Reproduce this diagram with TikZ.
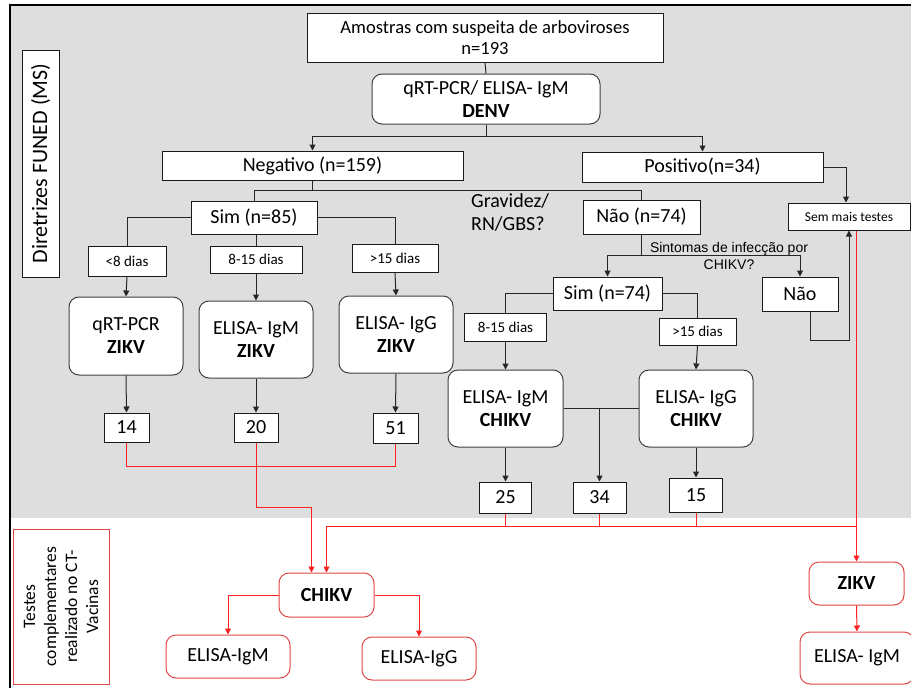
\documentclass[tikz,border=0pt]{standalone}
\usepackage{fontspec}
\setmainfont{Carlito}
\newfontfamily\arialf{Liberation Sans}
\usetikzlibrary{arrows.meta}
\definecolor{bg}{HTML}{DEDEDE}
\definecolor{boxred}{HTML}{E04848}
\definecolor{lnred}{HTML}{FF2020}
\newcommand\myfs[2]{\fontsize{#1pt}{#2pt}\selectfont}
\tikzset{
  box/.style={draw=black!90, fill=white, line width=1pt, inner sep=0pt, align=center, font=\myfs{20}{22}},
  rbox/.style={box, rounded corners=10pt, draw=black!75, font=\myfs{20}{23}},
  small/.style={font=\myfs{15}{17}},
  ln/.style={draw=black!85, line width=1pt},
  arr/.style={ln, -{Triangle[width=6pt,length=6pt]}},
  redln/.style={draw=lnred, line width=1pt},
  redarr/.style={redln, -{Triangle[width=6pt,length=6pt]}},
  redbox/.style={draw=boxred, fill=white, rounded corners=10pt, line width=1pt, inner sep=0pt, align=center, font=\myfs{20}{22}}
}
\begin{document}
\begin{tikzpicture}[x=1pt,y=-1pt]
\useasboundingbox (0,0) rectangle (911,688);
\fill[white] (0,0) rectangle (911,688);
\fill[bg] (10,5) rectangle (911,518);
\draw[black, line width=2.5pt] (10,688) -- (10,5) -- (911,5);

% top part
\node[box, minimum width=356, minimum height=49, font=\myfs{18.6}{21}] (top) at (485,37.5) {Amostras com suspeita de arboviroses\\n=193};
\node[rbox, minimum width=228, minimum height=50] (denv) at (486,99) {qRT-PCR/ ELISA- IgM\\\textbf{DENV}};
\node[box, minimum width=301, minimum height=29] (neg) at (312.5,165.5) {Negativo (n=159)};
\node[box, minimum width=241, minimum height=30] (pos) at (702.5,167) {Positivo(n=34)};
\node[box, minimum width=122, minimum height=27, font=\myfs{13.5}{15}] (semmais) at (849,216.5) {Sem mais testes};

\node[box, minimum width=126, minimum height=33] (sim85) at (254,217.5) {Sim (n=85)};
\node[box, minimum width=117, minimum height=34] (nao74) at (641.5,217) {Não (n=74)};

\node[box, small, minimum width=78, minimum height=30] (lt8) at (127,261) {<8 dias};
\node[box, small, minimum width=92, minimum height=27] (d815a) at (256,259.5) {8-15 dias};
\node[box, small, minimum width=86, minimum height=28] (gt15a) at (395,258) {>15 dias};

\node[rbox, minimum width=114, minimum height=78] (qrt) at (126,336) {qRT-PCR\\\textbf{ZIKV}};
\node[rbox, minimum width=114, minimum height=77] (emz) at (256,339.5) {ELISA- IgM\\\textbf{ZIKV}};
\node[rbox, minimum width=114, minimum height=77] (egz) at (396,334.5) {ELISA- IgG\\\textbf{ZIKV}};

\node[box, minimum width=45, minimum height=29] (n14) at (126.5,427.5) {14};
\node[box, minimum width=44, minimum height=29] (n20) at (256,427.5) {20};
\node[box, minimum width=45, minimum height=30] (n51) at (395.5,428) {51};

\node[anchor=north west, align=left, inner sep=0pt, font=\myfs{20}{23}] (grav) at (471,193) {Gravidez/\\RN/GBS?};
\node[align=center, inner sep=0pt, font=\arialf\myfs{14}{16.5}] (sint) at (729,256) {Sintomas de infecção por\\CHIKV?};

\node[box, minimum width=76, minimum height=34] (nao) at (800,294) {Não};
\node[box, minimum width=109, minimum height=33] (sim74) at (607.5,293.5) {Sim (n=74)};
\node[box, small, minimum width=82, minimum height=28] (d815b) at (505.5,327) {8-15 dias};
\node[box, small, minimum width=77, minimum height=27] (gt15b) at (697.5,331.5) {>15 dias};

\node[rbox, minimum width=115, minimum height=77] (eimc) at (505.5,408.5) {ELISA- IgM\\\textbf{CHIKV}};
\node[rbox, minimum width=114, minimum height=77] (eigc) at (696,408.5) {ELISA- IgG\\\textbf{CHIKV}};

\node[box, minimum width=52, minimum height=31] (n25) at (505.5,497.5) {25};
\node[box, minimum width=53, minimum height=31] (n34) at (599.5,497.5) {34};
\node[box, minimum width=53, minimum height=34] (n15) at (696,495) {15};

\node[box, rotate=90, minimum width=227, minimum height=37, font=\myfs{22}{24}] (diret) at (40.5,163.5) {Diretrizes FUNED (MS)};
\node[box, draw=boxred, rotate=90, minimum width=155, minimum height=96, font=\myfs{17.5}{21}] (testes) at (61,606.5) {Testes\\complementares\\realizado no CT-\\Vacinas};

% bottom part
\node[redbox, minimum width=95, minimum height=44] (chikv) at (326.5,595) {\textbf{CHIKV}};
\node[redbox, minimum width=124, minimum height=43] (eim) at (228,656.5) {ELISA-IgM};
\node[redbox, minimum width=114, minimum height=43] (eig) at (419,658.5) {ELISA-IgG};
\node[redbox, minimum width=95, minimum height=43] (zikv) at (856.5,583.5) {\textbf{ZIKV}};
\node[redbox, minimum width=114, minimum height=52] (eimz) at (857,658) {ELISA- IgM};

% black connectors
\draw[ln] (top.south) -- (denv.north);
\coordinate (jd) at (486,136);
\draw[ln] (denv.south) -- (jd);
\draw[arr] (jd) -| (neg.north);
\draw[arr] (jd) -| (pos.north);
\draw[arr] (pos.east) -| ([xshift=-3pt]semmais.north);

\coordinate (jn) at (312.5,190);
\draw[ln] (neg.south) -- (jn);
\draw[ln] (jn) -| (sim85.north);
\draw[ln] (jn) -| (nao74.north);

\draw[ln] (sim85.west) -| (lt8.north);
\draw[ln] (d815a.north |- sim85.south) -- (d815a.north);
\draw[ln] (sim85.east) -| (gt15a.north);
\draw[arr] (lt8.south) -- (qrt.north);
\draw[arr] (d815a.south) -- (emz.north);
\draw[arr] (gt15a.south) -- (egz.north);
\draw[arr] (qrt.south) -- (n14.north);
\draw[arr] (emz.south) -- (n20.north);
\draw[arr] (egz.south) -- (n51.north);

\coordinate (js) at (641.5,255);
\draw[ln] (nao74.south) -- (js);
\draw[arr] (js) -| (sim74.north);
\draw[arr] (js) -| (nao.north);
\draw[arr] ([xshift=10pt]nao.south) -- ++(0,29) -| (semmais.south);

\draw[ln] (sim74.west) -| (d815b.north);
\draw[ln] (sim74.east) -| (gt15b.north);
\draw[arr] (d815b.south) -- (eimc.north);
\draw[arr] (gt15b.south) -- (eigc.north);
\draw[arr] (eimc.south) -- (n25.north);
\draw[arr] (eigc.south) -- (n15.north);
\draw[ln] (eimc.east) -- (eigc.west);
\draw[arr] (n34.north |- eimc.east) -- (n34.north);

% red connectors
\draw[redln] (n14.south) -- ++(0,24) -| (n51.south);
\draw[redarr] (n20.south) -- ++(0,65) -| ([xshift=-15pt]chikv.north);
\coordinate (jr) at (856.5,526);
\draw[redarr] (zikv.north |- semmais.south) -- (zikv.north);
\draw[redarr] (jr) -| (chikv.north);
\draw[redln] (n25.south) -- (n25.south |- jr);
\draw[redln] (n34.south) -- (n34.south |- jr);
\draw[redln] (n15.south) -- (n15.south |- jr);
\draw[redarr] (chikv.west) -| (eim.north);
\draw[redarr] (chikv.east) -| (eig.north);
\draw[redarr] (zikv.south) -- (eimz.north);
\end{tikzpicture}
\end{document}
